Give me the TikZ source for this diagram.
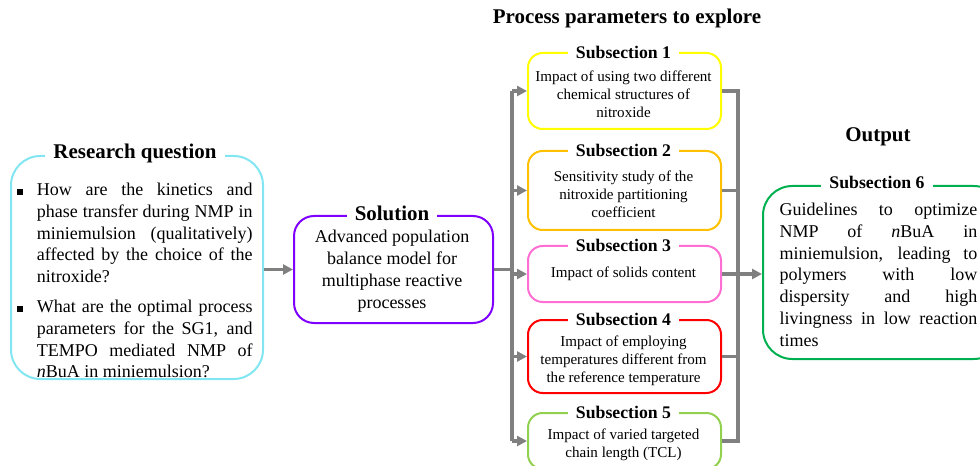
\documentclass[tikz,border=0pt]{standalone}
\usepackage{fontspec}
\setmainfont{Liberation Serif}
\usetikzlibrary{arrows.meta}
\definecolor{rqc}{RGB}{130,230,242}
\definecolor{solc}{RGB}{128,0,255}
\definecolor{s1c}{RGB}{255,255,0}
\definecolor{s2c}{RGB}{255,192,0}
\definecolor{s3c}{RGB}{255,110,210}
\definecolor{s4c}{RGB}{255,0,0}
\definecolor{s5c}{RGB}{146,208,80}
\definecolor{outc}{RGB}{0,176,80}
\definecolor{connc}{RGB}{128,128,128}
\newcommand\jline[2]{\makebox[#1][s]{#2}}
\begin{document}
\begin{tikzpicture}[x=0.75pt,y=-0.75pt,
  box/.style={draw, line width=1.5pt, rounded corners=#1, anchor=north west, inner sep=0pt},
  bigtitle/.style={fill=white, font=\bfseries\fontsize{15.7}{18}\selectfont, inner xsep=6pt, inner ysep=0pt},
  subtitle/.style={fill=white, font=\bfseries\fontsize{13.3}{16}\selectfont, inner xsep=6pt, inner ysep=0pt},
  subtext/.style={font=\fontsize{11.3}{13.5}\selectfont, align=center, inner sep=0pt},
  bodytext/.style={font=\fontsize{13.5}{16.3}\selectfont, inner sep=0pt, anchor=north west, align=left},
  bulletmark/.style={fill=black, minimum size=3.8pt, inner sep=0pt},
  conn/.style={draw=connc, line width=2.4pt, line join=miter},
  arr/.style={conn, -{Triangle[length=7.5pt,width=7.5pt]}}
]
\clip (0,0) rectangle (980,466);

% headings
\node[bigtitle] (ppt) at (627,18) {Process parameters to explore};
\node[bigtitle] (outt) at (878,137) {Output};

% research question
\node[box=22pt, draw=rqc, minimum width=252*0.75pt, minimum height=223*0.75pt] (rq) at (10,155) {};
\node[bigtitle] (rqt) at (135,153) {Research question};
\node[bulletmark] (b1) at (20,192) {};
\node[bulletmark] (b2) at (20,309) {};
\node[bodytext] (rq1) at (36.7,183) {\jline{161.7pt}{How are the kinetics and}\\
\jline{161.7pt}{phase transfer during NMP in}\\
\jline{161.7pt}{miniemulsion (qualitatively)}\\
\jline{161.7pt}{affected by the choice of the}\\
nitroxide?};
\node[bodytext] (rq2) at (36.7,300) {\jline{161.7pt}{What are the optimal process}\\
\jline{161.7pt}{parameters for the SG1, and}\\
\jline{161.7pt}{TEMPO mediated NMP of}\\
\textit{n}BuA in miniemulsion?};

% solution
\node[box=15pt, draw=solc, minimum width=199*0.75pt, minimum height=107*0.75pt] (sol) at (293,215) {};
\node[bigtitle] (solt) at (392,213) {Solution};
\node[font=\fontsize{13.5}{16.5}\selectfont, align=center, inner sep=0pt] (soltx) at (392,271)
 {Advanced population\\balance model for\\multiphase reactive\\processes};

% subsections
\node[box=11pt, draw=s1c, minimum width=193*0.75pt, minimum height=76*0.75pt] (s1) at (527,52) {};
\node[subtitle] (s1t) at (623.5,52) {Subsection 1};
\node[subtext] (s1x) at (623.5,94) {Impact of using two different\\chemical structures of\\nitroxide};

\node[box=11pt, draw=s2c, minimum width=193*0.75pt, minimum height=79*0.75pt] (s2) at (527,150) {};
\node[subtitle] (s2t) at (623.5,150) {Subsection 2};
\node[subtext] (s2x) at (623.5,194) {Sensitivity study of the\\nitroxide partitioning\\coefficient};

\node[box=11pt, draw=s3c, minimum width=193*0.75pt, minimum height=56*0.75pt] (s3) at (527,245) {};
\node[subtitle] (s3t) at (623.5,245) {Subsection 3};
\node[subtext] (s3x) at (623.5,274) {Impact of solids content};

\node[box=11pt, draw=s4c, minimum width=193*0.75pt, minimum height=73*0.75pt] (s4) at (527,319) {};
\node[subtitle] (s4t) at (623.5,319) {Subsection 4};
\node[subtext] (s4x) at (623.5,361) {Impact of employing\\temperatures different from\\the reference temperature};

\node[box=11pt, draw=s5c, minimum width=193*0.75pt, minimum height=56*0.75pt] (s5) at (527,412) {};
\node[subtitle] (s5t) at (623.5,412) {Subsection 5};
\node[subtext] (s5x) at (623.5,445) {Impact of varied targeted\\chain length (TCL)};

% output
\node[box=22pt, draw=outc, minimum width=240*0.75pt, minimum height=173*0.75pt] (out) at (762,185) {};
\node[subtitle] (outst) at (877,182) {Subsection 6};
\node[bodytext] (outx) at (779.3,203) {\jline{148.3pt}{Guidelines to optimize}\\
\jline{148.3pt}{NMP of \textit{n}BuA in}\\
\jline{148.3pt}{miniemulsion, leading to}\\
\jline{148.3pt}{polymers with low}\\
\jline{148.3pt}{dispersity and high}\\
\jline{148.3pt}{livingness in low reaction}\\
times};

% connectors
\coordinate (bl) at (512,0);
\coordinate (br) at (738,0);
\draw[arr] (sol.west -| rq.east) -- (sol.west);
\draw[conn] (sol.east) -- (sol.east -| bl);
\draw[conn] (s1.west -| bl) -- (s5.west -| bl);
\draw[arr] (s1.west -| bl) -- (s1.west);
\draw[arr] (s2.west -| bl) -- (s2.west);
\draw[arr] (s3.west -| bl) -- (s3.west);
\draw[arr] (s4.west -| bl) -- (s4.west);
\draw[arr] (s5.west -| bl) -- (s5.west);
\draw[conn] (s1.east) -- (s1.east -| br) -- (s5.east -| br) -- (s5.east);
\draw[conn] (s2.east) -- (s2.east -| br);
\draw[conn] (s3.east) -- (s3.east -| br);
\draw[conn] (s4.east) -- (s4.east -| br);
\draw[arr] (s3.east -| br) -- (out.west |- s3.east);
\end{tikzpicture}
\end{document}
